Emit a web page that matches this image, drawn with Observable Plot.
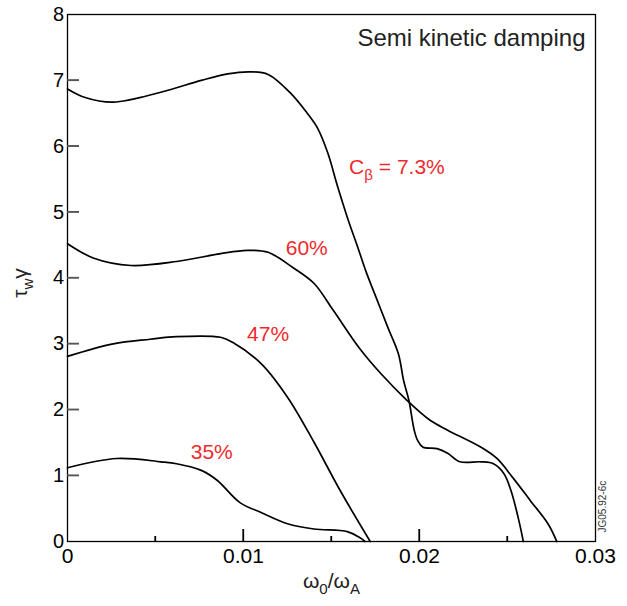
<!DOCTYPE html>
<html>
<head>
<meta charset="utf-8">
<script src="https://cdn.jsdelivr.net/npm/d3@7"></script>
<script src="https://cdn.jsdelivr.net/npm/@observablehq/plot@0.6"></script>
<style>
  html, body { margin: 0; padding: 0; background: #fff; }
</style>
</head>
<body>
<div id="chart"></div>
<script>
// ---- data ----
const xTicks = [0, 0.01, 0.02, 0.03];
const xMajorInner = [0.01, 0.02];
const xMinorTicks = [0.005, 0.015, 0.025];
const yTicks = [0, 1, 2, 3, 4, 5, 6, 7, 8];
const yInnerTicks = [1, 2, 3, 4, 5, 6, 7];

const x73 = [0, 0.001, 0.0026, 0.0053, 0.0076, 0.0091, 0.0104, 0.0114, 0.0127, 0.0136, 0.0142, 0.0148, 0.0153, 0.0159, 0.0165, 0.017, 0.0176, 0.0182, 0.0188, 0.0191, 0.0194, 0.0197, 0.0199, 0.0202, 0.021, 0.0216, 0.0223, 0.0235, 0.0242, 0.0248, 0.0252, 0.0256, 0.0259];
const y73 = [6.87, 6.74, 6.67, 6.82, 7.0, 7.10, 7.13, 7.09, 6.80, 6.51, 6.28, 5.89, 5.43, 4.92, 4.46, 4.07, 3.66, 3.25, 2.85, 2.44, 2.14, 1.69, 1.53, 1.43, 1.41, 1.34, 1.21, 1.21, 1.18, 1.03, 0.77, 0.37, 0];

const x60 = [0, 0.0015, 0.0036, 0.0062, 0.0087, 0.0102, 0.0114, 0.0128, 0.014, 0.0151, 0.0166, 0.0178, 0.0193, 0.0206, 0.0216, 0.0235, 0.0244, 0.0253, 0.0263, 0.0273, 0.0278];
const y60 = [4.52, 4.30, 4.19, 4.25, 4.37, 4.42, 4.39, 4.16, 3.92, 3.51, 2.93, 2.55, 2.14, 1.84, 1.69, 1.43, 1.26, 0.97, 0.62, 0.27, 0];

const x47 = [0, 0.0026, 0.0047, 0.0062, 0.0087, 0.0094, 0.011, 0.0125, 0.014, 0.0155, 0.0172];
const y47 = [2.81, 3.0, 3.07, 3.11, 3.10, 3.02, 2.70, 2.19, 1.51, 0.77, 0];

const x35 = [0, 0.0028, 0.0053, 0.0062, 0.0076, 0.0085, 0.0098, 0.011, 0.0125, 0.014, 0.0159, 0.0166, 0.0169];
const y35 = [1.12, 1.26, 1.21, 1.18, 1.08, 0.93, 0.59, 0.44, 0.27, 0.19, 0.15, 0.06, 0];

const seriesNames = ["7.3%", "60%", "47%", "35%"];
const seriesX = [x73, x60, x47, x35];
const seriesY = [y73, y60, y47, y35];

const labelText = ["Cβ = 7.3%", "60%", "47%", "35%"];
const labelX = [0.0160, 0.0124, 0.0102, 0.0070];
const labelY = [5.68, 4.45, 3.14, 1.35];

const titleText = "Semi kinetic damping";
const xLabel = "ω0/ωA";
const yLabel = "τwγ";
const codeText = "JG05.92-6c";

// ---- layout ----
const W = 627, H = 606, mL = 67, mR = 32, mT = 14, mB = 65;
const xDomain = [0, 0.03], yDomain = [0, 8];
const fw = W - mL - mR, fh = H - mT - mB;
const pxX = (xDomain[1] - xDomain[0]) / fw;   // data units per pixel
const pxY = (yDomain[1] - yDomain[0]) / fh;

// ---- build table ----
const rows = [];
seriesNames.forEach((name, k) => {
  seriesX[k].forEach((x, i) => rows.push({series: name, x, y: seriesY[k][i]}));
});
const labels = labelText.map((t, i) => ({text: t, x: labelX[i], y: labelY[i]}));

const red = "#ee2a2e";

const chart = Plot.plot({
  width: W,
  height: H,
  marginLeft: mL,
  marginRight: mR,
  marginTop: mT,
  marginBottom: mB,
  style: {fontFamily: "Liberation Sans, Arial, sans-serif", background: "#fff"},
  x: {domain: xDomain, label: null},
  y: {domain: yDomain, label: null},
  marks: [
    Plot.frame({stroke: "#000", strokeWidth: 1.3}),
    Plot.line(rows, {x: "x", y: "y", z: "series", curve: "catmull-rom", stroke: "#000", strokeWidth: 1.7}),
    Plot.axisX({ticks: xTicks, tickFormat: d => String(d), tickSize: 0, tickPadding: 7, fontSize: 21}),
    Plot.axisY({ticks: yTicks, tickFormat: d => String(d), tickSize: 0, tickPadding: 3.5, fontSize: 20}),
    Plot.text(labels, {x: "x", y: "y", text: "text", textAnchor: "start", lineAnchor: "middle", fill: red, fontSize: 21}),
    Plot.text([titleText], {frameAnchor: "top-right", dx: -10, dy: 24, lineAnchor: "middle", textAnchor: "end", fontSize: 24, fill: "#222"}),
    Plot.text([xLabel], {frameAnchor: "bottom", dy: 40, lineAnchor: "middle", textAnchor: "middle", fontSize: 21, fill: "#222"}),
    Plot.text([yLabel], {frameAnchor: "left", dx: -47, dy: 5, rotate: -90, lineAnchor: "middle", textAnchor: "middle", fontSize: 21, fill: "#222"}),
    Plot.text([codeText], {frameAnchor: "bottom-right", dx: 7, dy: -9, rotate: -90, lineAnchor: "middle", textAnchor: "start", fontSize: 10, fill: "#333"}),
    // inward ticks as thin filled rectangles (plus stroked ticks underneath)
    Plot.tickY(yInnerTicks, {y: d => d, insetRight: fw - 12, stroke: "#555", strokeWidth: 1.4}),
    Plot.tickX(xMajorInner, {x: d => d, insetTop: fh - 12, stroke: "#000", strokeWidth: 1.3}),
    Plot.tickX(xMinorTicks, {x: d => d, insetTop: fh - 5, stroke: "#000", strokeWidth: 1.3}),
    Plot.rect(yInnerTicks, {x1: xDomain[0], x2: xDomain[0] + 12 * pxX, y1: d => d - 0.65 * pxY, y2: d => d + 0.65 * pxY, fill: "#555"}),
    Plot.rect(xMajorInner, {x1: d => d - 0.6 * pxX, x2: d => d + 0.6 * pxX, y1: yDomain[0], y2: yDomain[0] + 12 * pxY, fill: "#000"}),
    Plot.rect(xMinorTicks, {x1: d => d - 0.6 * pxX, x2: d => d + 0.6 * pxX, y1: yDomain[0], y2: yDomain[0] + 5 * pxY, fill: "#000"})
  ]
});

document.getElementById("chart").appendChild(chart);

// ---- subscripts as real text (tspans) ----
const rich = {
  "Cβ = 7.3%": [["C"], ["β", 1], [" = 7.3%"]],
  "ω0/ωA": [["ω"], ["0", 1], ["/ω"], ["A", 1]],
  "τwγ": [["τ"], ["w", 1], ["γ"]]
};
d3.select(chart).selectAll("text").each(function () {
  const el = d3.select(this);
  const s = this.textContent;
  if (!(s in rich)) return;
  let fs = parseFloat(this.getAttribute("font-size") || (this.parentNode && this.parentNode.getAttribute("font-size")) || 21);
  if (!isFinite(fs)) fs = 21;
  const shift = fs * 0.28;
  el.text(null);
  let down = false;
  for (const [str, sub] of rich[s]) {
    const t = el.append("tspan").text(str);
    if (sub && !down) { t.attr("dy", shift).attr("font-size", fs * 0.72); down = true; }
    else if (sub) { t.attr("font-size", fs * 0.72); }
    else if (down) { t.attr("dy", -shift); down = false; }
  }
});
</script>
</body>
</html>
